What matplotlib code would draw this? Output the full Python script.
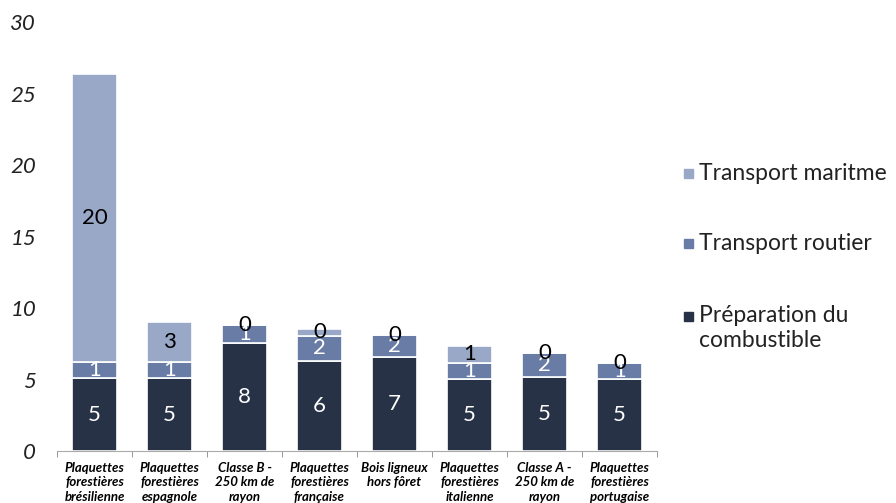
import matplotlib
matplotlib.use("Agg")
import matplotlib.pyplot as plt
from matplotlib.patches import Rectangle
import numpy as np

plt.rcParams['font.family'] = ['Lato', 'DejaVu Sans']

categories = [
    "Plaquettes\nforestières\nbrésilienne",
    "Plaquettes\nforestières\nespagnole",
    "Classe B -\n250 km de\nrayon",
    "Plaquettes\nforestières\nfrançaise",
    "Bois ligneux\nhors fôret",
    "Plaquettes\nforestières\nitalienne",
    "Classe A -\n250 km de\nrayon",
    "Plaquettes\nforestières\nportugaise",
]
preparation = [5.08, 5.08, 7.53, 6.31, 6.55, 5.03, 5.2, 5.03]
routier = [1.12, 1.12, 1.26, 1.75, 1.55, 1.14, 1.63, 1.1]
maritime = [20.16, 2.8, 0.0, 0.47, 0.0, 1.17, 0.0, 0.0]

series_names = ["Préparation du\ncombustible", "Transport routier", "Transport maritme"]
colors = ["#283246", "#687ca6", "#98a8c6"]
label_colors = ["white", "white", "black"]
y_ticks = [0, 5, 10, 15, 20, 25, 30]

fig = plt.figure(figsize=(8.96, 5.03), dpi=100)
ax = fig.add_axes([57 / 896, 1 - 451 / 503, 600 / 896, 429 / 503])

x = np.arange(len(categories))
bottom = np.zeros(len(categories))
for vals, col, lcol in zip([preparation, routier, maritime], colors, label_colors):
    vals = np.array(vals)
    ax.bar(x, vals, width=0.61, bottom=bottom, color=col,
           edgecolor="white", linewidth=1.2, zorder=2)
    for xi, b, v in zip(x, bottom, vals):
        ax.text(xi, b + v / 2, f"{v:.0f}", ha="center", va="center",
                color=lcol, fontsize=16, zorder=3)
    bottom = bottom + vals

ax.set_xlim(-0.5, len(categories) - 0.5)
ax.set_ylim(0, 30)
ax.set_yticks(y_ticks)
ax.set_yticklabels([str(t) for t in y_ticks], fontsize=16, style="italic",
                   color="#222222")
ax.tick_params(axis="y", length=0, pad=15)

ax.set_xticks(x)
ax.set_xticklabels(categories, fontsize=9.5, fontweight="bold",
                   style="italic", linespacing=1.22)
ax.tick_params(axis="x", which="major", length=0, pad=8)
ax.set_xticks(np.arange(-0.5, len(categories)), minor=True)
ax.tick_params(axis="x", which="minor", length=4, color="#888888",
               direction="out")

for side in ["top", "right", "left"]:
    ax.spines[side].set_visible(False)
ax.spines["bottom"].set_color("#aaaaaa")

# legend drawn beside the plot, top entry first
legend_rows = [(series_names[2], colors[2], 174),
               (series_names[1], colors[1], 244),
               (series_names[0], colors[0], 316)]
for name, col, ypix in legend_rows:
    fy = 1 - ypix / 503
    fig.patches.append(Rectangle((684 / 896, fy - 4.5 / 503), 9 / 896, 9 / 503,
                                 transform=fig.transFigure, color=col))
    fig.text(699 / 896, fy + 10.5 / 503, name, ha="left", va="top",
             fontsize=16.5, color="#222222", linespacing=1.2)

fig.savefig("out.png", dpi=100)
